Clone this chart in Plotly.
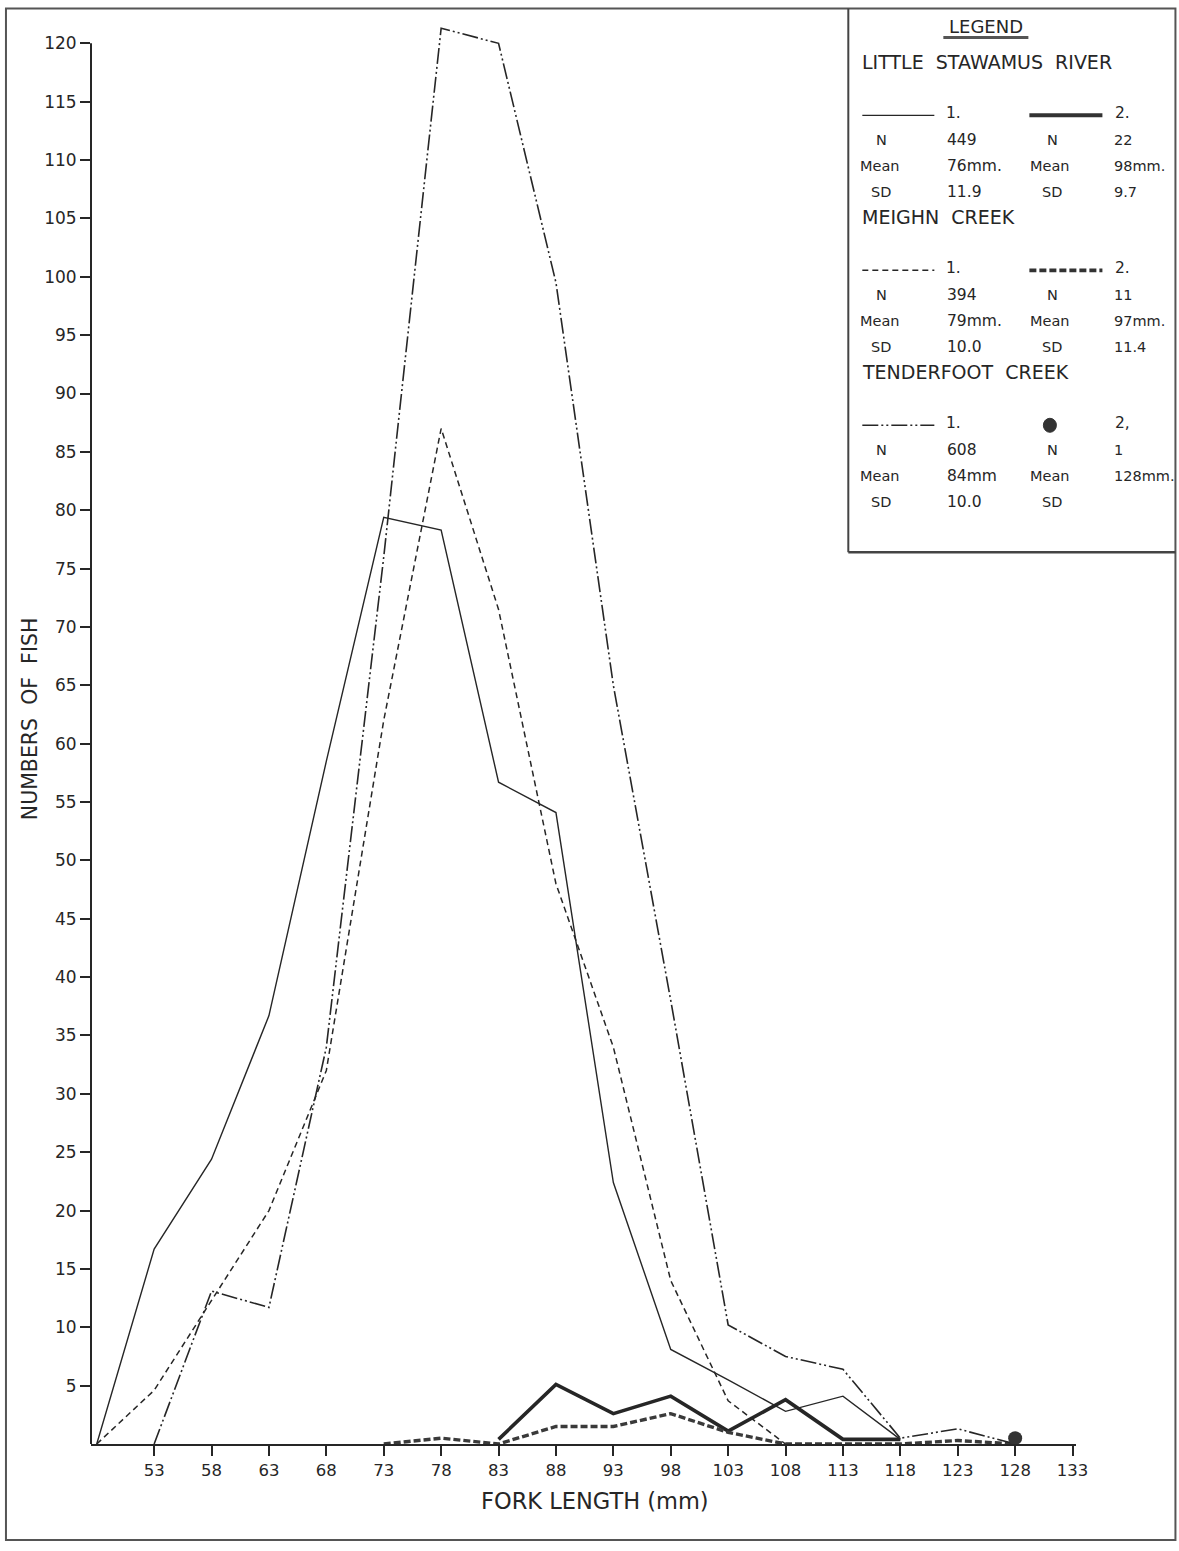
import plotly.graph_objects as go

# ---------------- data ----------------
ls1_x = [48, 53, 58, 63, 68, 73, 78, 83, 88, 93, 98, 103, 108, 113, 118]
ls1_y = [0, 16.7, 24.4, 36.7, 58.5, 79.4, 78.3, 56.7, 54.1, 22.4, 8.1, 5.5, 2.8, 4.1, 0.4]

ls2_x = [83, 88, 93, 98, 103, 108, 113, 118]
ls2_y = [0.4, 5.1, 2.6, 4.1, 1.1, 3.8, 0.4, 0.4]

mc1_x = [48, 53, 58, 63, 68, 73, 78, 83, 88, 93, 98, 103, 108]
mc1_y = [0, 4.6, 12.3, 20.0, 32.0, 62.0, 87.0, 71.5, 48.0, 34.0, 14.0, 3.7, 0]

mc2_x = [73, 78, 83, 88, 93, 98, 103, 108, 113, 118, 123, 128]
mc2_y = [0, 0.5, 0, 1.5, 1.5, 2.6, 1.0, 0, 0, 0, 0.3, 0]

tc1_x = [53, 58, 63, 68, 73, 78, 83, 88, 93, 98, 103, 108, 113, 118, 123, 128]
tc1_y = [0, 13.1, 11.7, 34.0, 76.0, 121.3, 120.0, 99.5, 65.0, 38.0, 10.2, 7.5, 6.4, 0.5, 1.3, 0]

tc2_x = [128]
tc2_y = [0.5]

x_ticks = [53, 58, 63, 68, 73, 78, 83, 88, 93, 98, 103, 108, 113, 118, 123, 128, 133]
y_ticks = list(range(5, 121, 5))

legend_rows = [
    # (group heading, [N1, mean1, sd1], [N2, mean2, sd2])
    ("LITTLE  STAWAMUS  RIVER", ["449", "76mm.", "11.9"], ["22", "98mm.", "9.7"]),
    ("MEIGHN  CREEK", ["394", "79mm.", "10.0"], ["11", "97mm.", "11.4"]),
    ("TENDERFOOT  CREEK", ["608", "84mm", "10.0"], ["1", "128mm.", ""]),
]

# ---------------- layout geometry ----------------
W, H = 1179, 1551
L, R, T, B = 91, 103.4, 19.6, 107
INK = "#262626"
FONT = "DejaVu Sans"


def px(x):
    return (x - L) / (W - L - R)


def py(y):
    return (H - B - y) / (H - T - B)


fig = go.Figure()

fig.add_trace(go.Scatter(x=ls1_x, y=ls1_y, mode="lines",
                         line=dict(color=INK, width=1.4), showlegend=False))
fig.add_trace(go.Scatter(x=ls2_x, y=ls2_y, mode="lines",
                         line=dict(color=INK, width=3.6), showlegend=False))
fig.add_trace(go.Scatter(x=mc1_x, y=mc1_y, mode="lines",
                         line=dict(color=INK, width=1.5, dash="6px,4px"), showlegend=False))
fig.add_trace(go.Scatter(x=mc2_x, y=mc2_y, mode="lines",
                         line=dict(color="#3a3a3a", width=3.4, dash="7px,3px"), showlegend=False))
fig.add_trace(go.Scatter(x=tc1_x, y=tc1_y, mode="lines",
                         line=dict(color=INK, width=1.6, dash="16px,3px,2px,3px,2px,3px"),
                         showlegend=False))
fig.add_trace(go.Scatter(x=tc2_x, y=tc2_y, mode="markers",
                         marker=dict(color="#333", size=14), showlegend=False, cliponaxis=False))

shapes = []
annotations = []

# y axis line up to 120
shapes.append(dict(type="line", xref="paper", yref="y", x0=0, x1=0, y0=0, y1=120,
                   line=dict(color=INK, width=2)))

# page frame
shapes.append(dict(type="rect", xref="paper", yref="paper",
                   x0=px(6), x1=px(1175), y0=py(1540), y1=py(8),
                   line=dict(color="#555", width=2)))
# legend box
shapes.append(dict(type="line", xref="paper", yref="paper", x0=px(848), x1=px(848),
                   y0=py(8), y1=py(552), line=dict(color="#444", width=2)))
shapes.append(dict(type="line", xref="paper", yref="paper", x0=px(848), x1=px(1175),
                   y0=py(552), y1=py(552), line=dict(color="#444", width=2.5)))

# legend heading
annotations.append(dict(text="LEGEND", xref="paper", yref="paper", x=px(986), y=py(26),
                        showarrow=False, xanchor="center", yanchor="middle",
                        font=dict(family=FONT, size=18, color=INK)))
shapes.append(dict(type="line", xref="paper", yref="paper", x0=px(943), x1=px(1028),
                   y0=py(37), y1=py(37), line=dict(color="#555", width=3)))

group_y = [62, 217, 372]
sample_dy = 53
styles1 = [dict(width=1.4), dict(width=1.5, dash="6px,4px"),
           dict(width=1.6, dash="16px,3px,2px,3px,2px,3px")]
styles2 = [dict(width=4), dict(width=3.6, dash="7px,3px"), None]


def add_text(txt, x, y, size=15.5, anchor="left"):
    annotations.append(dict(text=txt, xref="paper", yref="paper", x=px(x), y=py(y),
                            showarrow=False, xanchor=anchor, yanchor="middle",
                            font=dict(family=FONT, size=size, color=INK)))


for gi, (heading, col1, col2) in enumerate(legend_rows):
    gy = group_y[gi]
    add_text(heading, 860, gy, size=19)
    sy = gy + sample_dy
    s1 = dict(color=INK, **styles1[gi])
    shapes.append(dict(type="line", xref="paper", yref="paper", x0=px(862), x1=px(934),
                       y0=py(sy), y1=py(sy), line=s1))
    add_text("1.", 944, sy - 2)
    if styles2[gi] is not None:
        s2 = dict(color="#333", **styles2[gi])
        shapes.append(dict(type="line", xref="paper", yref="paper", x0=px(1029), x1=px(1102),
                           y0=py(sy), y1=py(sy), line=s2))
        add_text("2.", 1113, sy - 2)
    else:
        shapes.append(dict(type="circle", xref="paper", yref="paper",
                           x0=px(1043), x1=px(1056), y0=py(sy + 7), y1=py(sy - 7),
                           fillcolor="#333", line=dict(color="#333", width=1)))
        add_text("2,", 1113, sy - 2)
    labels = ["N", "Mean", "SD"]
    lab_x1 = [874, 858, 869]
    lab_x2 = [1045, 1028, 1040]
    for ri in range(3):
        ry = sy + 25 + ri * 26
        add_text(labels[ri], lab_x1[ri], ry, size=14.5)
        add_text(col1[ri], 945, ry)
        add_text(labels[ri], lab_x2[ri], ry, size=14.5)
        if col2[ri]:
            add_text(col2[ri], 1112, ry, size=14.5)

# axis titles
annotations.append(dict(text="FORK LENGTH (mm)", xref="paper", yref="paper",
                        x=px(595), y=py(1501), showarrow=False, xanchor="center",
                        yanchor="middle", font=dict(family=FONT, size=22.5, color=INK)))
annotations.append(dict(text="NUMBERS  OF  FISH", xref="paper", yref="paper",
                        x=px(30), y=py(718), showarrow=False, xanchor="center",
                        yanchor="middle", textangle=-90,
                        font=dict(family=FONT, size=20.5, color=INK)))

fig.update_layout(
    width=W, height=H,
    margin=dict(l=L, r=R, t=T, b=B, autoexpand=False),
    paper_bgcolor="white", plot_bgcolor="white",
    shapes=shapes, annotations=annotations,
    xaxis=dict(range=[47.5, 133.3], tickmode="array", tickvals=x_ticks,
               ticktext=[str(v) for v in x_ticks], showgrid=False, zeroline=False,
               showline=True, linecolor=INK, linewidth=2, ticks="outside", ticklen=10,
               tickwidth=1.5, tickcolor=INK,
               tickfont=dict(family=FONT, size=16.5, color=INK)),
    yaxis=dict(range=[0, 122], tickmode="array", tickvals=y_ticks,
               ticktext=[str(v) for v in y_ticks], showgrid=False, zeroline=False,
               showline=False, ticks="outside", ticklen=10, tickwidth=1.5, tickcolor=INK,
               tickfont=dict(family=FONT, size=17, color=INK)),
)

fig.write_html("out.html", config={"displayModeBar": False},
               post_script="document.body.style.margin='0';")
